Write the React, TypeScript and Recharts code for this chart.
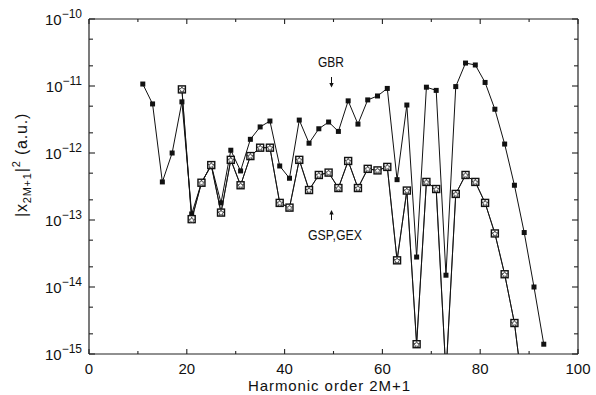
import React from "react";
import { LineChart, Line, XAxis, YAxis } from "recharts";

// harmonic orders 2M+1
const orders = [
  11, 13, 15, 17, 19, 21, 23, 25, 27, 29, 31, 33, 35, 37, 39, 41, 43, 45, 47, 49, 51,
  53, 55, 57, 59, 61, 63, 65, 67, 69, 71, 73, 75, 77, 79, 81, 83, 85, 87, 89, 91, 93,
];

const gbr = [
  1.07e-11, 5.4e-12, 3.7e-13, 1.0e-12, 5.8e-12, 1.23e-13, 3.6e-13, 6.6e-13, 1.8e-13, 1.1e-12,
  5.4e-13, 1.6e-12, 2.45e-12, 3.0e-12, 6.4e-13, 4.2e-13, 3.1e-12, 1.4e-12, 2.3e-12, 2.9e-12,
  2.1e-12, 6.0e-12, 2.7e-12, 6.2e-12, 7.1e-12, 9.2e-12, 4.0e-13, 5.2e-12, 2.8e-14, 9.6e-12,
  8.6e-12, 1.5e-14, 9.8e-12, 2.2e-11, 2.06e-11, 1.13e-11, 4.5e-12, 1.36e-12, 3.3e-13, 6.5e-14,
  1.0e-14, 1.4e-15,
];

const gsp = [
  null, null, null, null, 8.9e-12, 1.03e-13, 3.6e-13, 6.6e-13, 1.29e-13, 7.9e-13,
  3.3e-13, 9.0e-13, 1.2e-12, 1.2e-12, 1.8e-13, 1.53e-13, 7.9e-13, 2.8e-13, 4.7e-13, 5.1e-13,
  3.0e-13, 7.6e-13, 3.0e-13, 5.8e-13, 5.5e-13, 6.2e-13, 2.5e-14, 2.75e-13, 1.4e-15, 3.7e-13,
  2.9e-13, 5e-16, 2.45e-13, 4.7e-13, 3.7e-13, 1.8e-13, 6.3e-14, 1.55e-14, 2.9e-15, 2e-16,
  null, null,
];

const gex = [
  null, null, null, null, 8.9e-12, 1.0e-13, 3.6e-13, 6.6e-13, 1.29e-13, 7.9e-13,
  3.3e-13, 9.0e-13, 1.2e-12, 1.2e-12, 1.8e-13, 1.53e-13, 7.9e-13, 2.8e-13, 4.7e-13, 5.1e-13,
  3.0e-13, 7.6e-13, 3.0e-13, 5.8e-13, 5.5e-13, 6.2e-13, 2.5e-14, 2.75e-13, 1.4e-15, 3.7e-13,
  2.9e-13, 5e-16, 2.45e-13, 4.7e-13, 3.7e-13, 1.8e-13, 6.3e-14, 1.55e-14, 2.9e-15, 2e-16,
  null, null,
];

const xTicks = [0, 10, 20, 30, 40, 50, 60, 70, 80, 90, 100];
const xLabelled = [0, 20, 40, 60, 80, 100];
const yMajor = [1e-15, 1e-14, 1e-13, 1e-12, 1e-11, 1e-10];
const yMinor = [2e-15, 5e-15, 2e-14, 5e-14, 2e-13, 5e-13, 2e-12, 5e-12, 2e-11, 5e-11];
const yTicks = [...yMajor, ...yMinor].sort((a, b) => a - b);

const data = orders.map((n, i) => ({ n, gbr: gbr[i], gsp: gsp[i], gex: gex[i] }));

const W = 596;
const H = 395;
const LEFT = 89;
const RIGHT = 578;
const TOP = 19;
const BOTTOM = 354;
const INK = "#111";
const FONT = "'Liberation Sans', Arial, sans-serif";
const isMajorY = (v: number) => yMajor.some((m) => Math.abs(m - v) / m < 1e-6);

function BottomTick({ x, payload }: any) {
  const major = xLabelled.includes(payload.value);
  return (
    <g>
      <line x1={x} x2={x} y1={BOTTOM} y2={BOTTOM - (major ? 5 : 3)} stroke="#222" strokeWidth={1.1} />
      {major && (
        <text x={x} y={BOTTOM + 20} textAnchor="middle" fontSize={15} fill={INK} fontFamily={FONT}>
          {payload.value}
        </text>
      )}
    </g>
  );
}

function TopTick({ x, payload }: any) {
  const major = xLabelled.includes(payload.value);
  return <line x1={x} x2={x} y1={TOP} y2={TOP + (major ? 5 : 3)} stroke="#222" strokeWidth={1.1} />;
}

function LeftTick({ y, payload }: any) {
  const major = isMajorY(payload.value);
  const e = Math.round(Math.log10(payload.value));
  return (
    <g>
      <line x1={LEFT} x2={LEFT + (major ? 6 : 4)} y1={y} y2={y} stroke="#222" strokeWidth={1.1} />
      {major && (
        <text x={LEFT - 7} y={y + 6} textAnchor="end" fontSize={15} fill={INK} fontFamily={FONT}>
          <tspan>10</tspan>
          <tspan dy={-7} fontSize={12}>{"\u2212" + Math.abs(e)}</tspan>
        </text>
      )}
    </g>
  );
}

function RightTick({ y, payload }: any) {
  const major = isMajorY(payload.value);
  return <line x1={RIGHT} x2={RIGHT - (major ? 6 : 4)} y1={y} y2={y} stroke="#222" strokeWidth={1.1} />;
}

function filledSquare(p: any) {
  if (p.cx == null || p.cy == null || p.value == null) return <g key={p.index} />;
  return <rect key={p.index} x={p.cx - 2.5} y={p.cy - 2.5} width={5} height={5} fill={INK} />;
}

function openSquare(p: any) {
  if (p.cx == null || p.cy == null || p.value == null) return <g key={p.index} />;
  return (
    <rect key={p.index} x={p.cx - 3.5} y={p.cy - 3.5} width={7} height={7}
      fill="#fff" stroke={INK} strokeWidth={1.4} />
  );
}

function star(p: any) {
  if (p.cx == null || p.cy == null || p.value == null) return <g key={p.index} />;
  const pts: string[] = [];
  for (let k = 0; k < 10; k++) {
    const r = k % 2 === 0 ? 3.2 : 1.5;
    const a = -Math.PI / 2 + (k * Math.PI) / 5;
    pts.push(`${p.cx + r * Math.cos(a)},${p.cy + 0.4 + r * Math.sin(a)}`);
  }
  return <polygon key={p.index} points={pts.join(" ")} fill="#fff" stroke={INK} strokeWidth={0.7} />;
}

export default function App() {
  const axisStyle = { stroke: "#222", strokeWidth: 1.2 };
  return (
    <div style={{ position: "absolute", left: 0, top: 0, width: W, height: H, background: "#fff" }}>
      <LineChart width={W} height={H} data={data} margin={{ top: 18, right: 17, bottom: 0, left: 0 }}>
        <XAxis dataKey="n" type="number" domain={[0, 100]} ticks={xTicks} height={41} interval={0}
          axisLine={axisStyle} tickLine={false} tick={<BottomTick />} allowDataOverflow />
        <XAxis xAxisId="top" orientation="top" dataKey="n" type="number" domain={[0, 100]} ticks={xTicks}
          height={1} interval={0} axisLine={axisStyle} tickLine={false} tick={<TopTick />} allowDataOverflow />

        <YAxis scale="log" type="number" domain={[1e-15, 1e-10]} ticks={yTicks} width={89} interval={0}
          axisLine={axisStyle} tickLine={false} tick={<LeftTick />} allowDataOverflow />
        <YAxis yAxisId="right" orientation="right" scale="log" type="number" domain={[1e-15, 1e-10]}
          ticks={yTicks} width={1} interval={0} axisLine={axisStyle} tickLine={false} tick={<RightTick />}
          allowDataOverflow />

        <Line dataKey="gbr" type="linear" stroke={INK} strokeWidth={1} dot={filledSquare}
          activeDot={false} isAnimationActive={false} connectNulls={false} />
        <Line dataKey="gsp" type="linear" stroke={INK} strokeWidth={1} dot={openSquare}
          activeDot={false} isAnimationActive={false} connectNulls={false} />
        <Line dataKey="gex" type="linear" stroke={INK} strokeWidth={0.8} dot={star}
          activeDot={false} isAnimationActive={false} connectNulls={false} />

        {/* annotations */}
        <text x={331} y={67} textAnchor="middle" fontSize={14} fill={INK} fontFamily={FONT}
          textLength={26} lengthAdjust="spacingAndGlyphs">GBR</text>
        <line x1={331.5} y1={77} x2={331.5} y2={86} stroke={INK} strokeWidth={1} />
        <path d="M329.3,83 L331.5,87.5 L333.7,83 Z" fill={INK} />
        <line x1={331.5} y1={211} x2={331.5} y2={220} stroke={INK} strokeWidth={1} />
        <path d="M329.3,214.5 L331.5,210 L333.7,214.5 Z" fill={INK} />
        <text x={335} y={240} textAnchor="middle" fontSize={14} fill={INK} fontFamily={FONT}
          textLength={54} lengthAdjust="spacingAndGlyphs">GSP,GEX</text>

        <text x={329} y={391} textAnchor="middle" fontSize={15} fill={INK} fontFamily={FONT}
          textLength={162} lengthAdjust="spacing">Harmonic order 2M+1</text>

        <text transform="translate(27,165) rotate(-90)" textAnchor="middle" fontSize={16} fill={INK}
          fontFamily={FONT} letterSpacing={0.8}>
          <tspan>|x</tspan>
          <tspan dy={4} fontSize={11}>2M+1</tspan>
          <tspan dy={-4}>|</tspan>
          <tspan dy={-7} fontSize={11}>2</tspan>
          <tspan dy={7}>{" (a.u.)"}</tspan>
        </text>
      </LineChart>
    </div>
  );
}
